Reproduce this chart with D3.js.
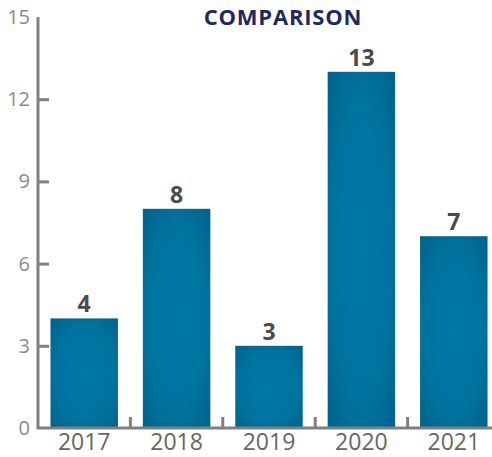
<!DOCTYPE html>
<html>
<head>
<meta charset="utf-8">
<script src="https://cdn.jsdelivr.net/npm/d3@7"></script>
<style>
  body { margin: 0; background: #fff; }
  text { font-family: "Open Sans", "DejaVu Sans", sans-serif; }
</style>
</head>
<body>
<div id="wrapper"></div>
<script>
// data
const years = ["2017", "2018", "2019", "2020", "2021"];
const values = [4, 8, 3, 13, 7];
const yTicks = [0, 3, 6, 9, 12, 15];
const title = "COMPARISON";

const width = 492;
const height = 457;
const margin = { top: 17, right: -8, bottom: 29, left: 38 };
const boundedWidth = width - margin.left - margin.right;
const boundedHeight = height - margin.top - margin.bottom;

const svg = d3.select("#wrapper")
  .append("svg")
  .attr("width", width)
  .attr("height", height);

// gradient for bars: darker at the edges
const defs = svg.append("defs");
const grad = defs.append("radialGradient")
  .attr("id", "barGrad")
  .attr("cx", "50%").attr("cy", "50%").attr("r", "75%");
grad.append("stop").attr("offset", "0%").attr("stop-color", "#0077a5");
grad.append("stop").attr("offset", "55%").attr("stop-color", "#0074a0");
grad.append("stop").attr("offset", "100%").attr("stop-color", "#005f86");

const bounds = svg.append("g")
  .attr("transform", `translate(${margin.left},${margin.top})`);

const x = d3.scaleBand()
  .domain(years)
  .range([0, boundedWidth])
  .paddingInner(0.27)
  .paddingOuter(0.135);

const y = d3.scaleLinear()
  .domain([0, 15])
  .range([boundedHeight, 0]);

// bars
bounds.selectAll("rect.bar")
  .data(values)
  .join("rect")
  .attr("class", "bar")
  .attr("x", (d, i) => x(years[i]))
  .attr("width", x.bandwidth())
  .attr("y", d => y(d))
  .attr("height", d => boundedHeight - y(d))
  .attr("fill", "url(#barGrad)");

// value labels
bounds.selectAll("text.val")
  .data(values)
  .join("text")
  .attr("class", "val")
  .attr("x", (d, i) => x(years[i]) + x.bandwidth() / 2)
  .attr("y", d => y(d) - 6)
  .attr("text-anchor", "middle")
  .attr("font-size", 23)
  .attr("font-weight", "bold")
  .attr("fill", "#4a4a4a")
  .text(d => d);

// y axis
const yAxis = bounds.append("g")
  .call(d3.axisRight(y).tickValues(yTicks).tickSize(11).tickFormat(d3.format("d")));
yAxis.select(".domain").remove();
yAxis.selectAll(".tick line")
  .attr("stroke", "#808080")
  .attr("stroke-width", 3)
  .filter(d => d === 0 || d === 15).remove();
yAxis.selectAll(".tick text")
  .attr("x", -8)
  .attr("text-anchor", "end")
  .attr("font-size", 20)
  .attr("fill", "#8a8a8a");
bounds.append("line")
  .attr("x1", 0).attr("x2", 0)
  .attr("y1", y(15)).attr("y2", boundedHeight)
  .attr("stroke", "#808080")
  .attr("stroke-width", 3);

// x axis
const step = x.step();
const boundaries = years.slice(1).map(yr => x(yr) - (step - x.bandwidth()) / 2);
const xAxis = bounds.append("g")
  .attr("transform", `translate(0,${boundedHeight})`);
xAxis.append("line")
  .attr("x1", -1.5).attr("x2", boundedWidth)
  .attr("stroke", "#808080")
  .attr("stroke-width", 3);
xAxis.selectAll("line.sep")
  .data(boundaries)
  .join("line")
  .attr("class", "sep")
  .attr("x1", d => d).attr("x2", d => d)
  .attr("y1", 0).attr("y2", -11)
  .attr("stroke", "#808080")
  .attr("stroke-width", 3);
xAxis.selectAll("text.yr")
  .data(years)
  .join("text")
  .attr("class", "yr")
  .attr("x", d => x(d) + x.bandwidth() / 2)
  .attr("y", 22)
  .attr("text-anchor", "middle")
  .attr("font-size", 23)
  .attr("fill", "#666")
  .text(d => d);

// title
svg.append("text")
  .attr("x", 283)
  .attr("y", 25)
  .attr("text-anchor", "middle")
  .attr("font-size", 22)
  .attr("font-weight", "bold")
  .attr("letter-spacing", 0.8)
  .attr("fill", "#1e2a5e")
  .text(title);
</script>
</body>
</html>
